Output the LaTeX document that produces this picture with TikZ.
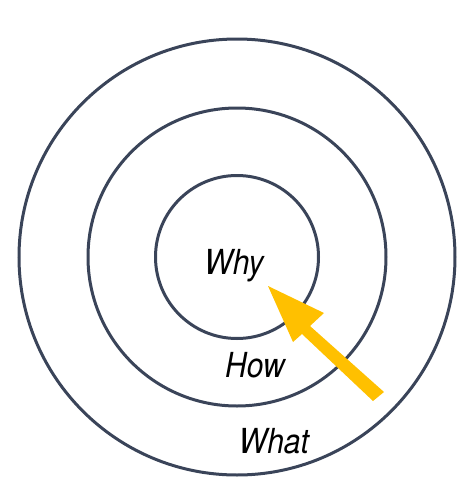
\documentclass[tikz,border=0pt]{standalone}
\usepackage{fontspec}
\setmainfont{TeX Gyre Heros}
\definecolor{ringc}{HTML}{3A4459}
\definecolor{arrowc}{HTML}{FFC000}
\begin{document}
\begin{tikzpicture}[x=1pt,y=-1pt,
  ring/.style={draw=ringc,line width=3pt,circle,inner sep=0pt},
  lbl/.style={font=\fontsize{30}{36}\selectfont\itshape,text=black,yscale=1.15}]
\useasboundingbox (0,0) rectangle (474,499);
\node[ring,minimum size=436pt] (outer) at (237,257) {};
\node[ring,minimum size=298pt] (middle) at (237,257) {};
\node[ring,minimum size=163pt] (inner) at (237,257) {};
\node[lbl] (why) at (234,266) {Why};
\node[lbl] (how) at (255,365) {How};
\node[lbl] (what) at (274,441) {What};
\coordinate (tip) at (268,286);
\fill[arrowc] (tip) -- (324,313) -- (310,326) -- (384,392) -- (373,401) -- (302,334) -- (293,342) -- cycle;
\end{tikzpicture}
\end{document}
